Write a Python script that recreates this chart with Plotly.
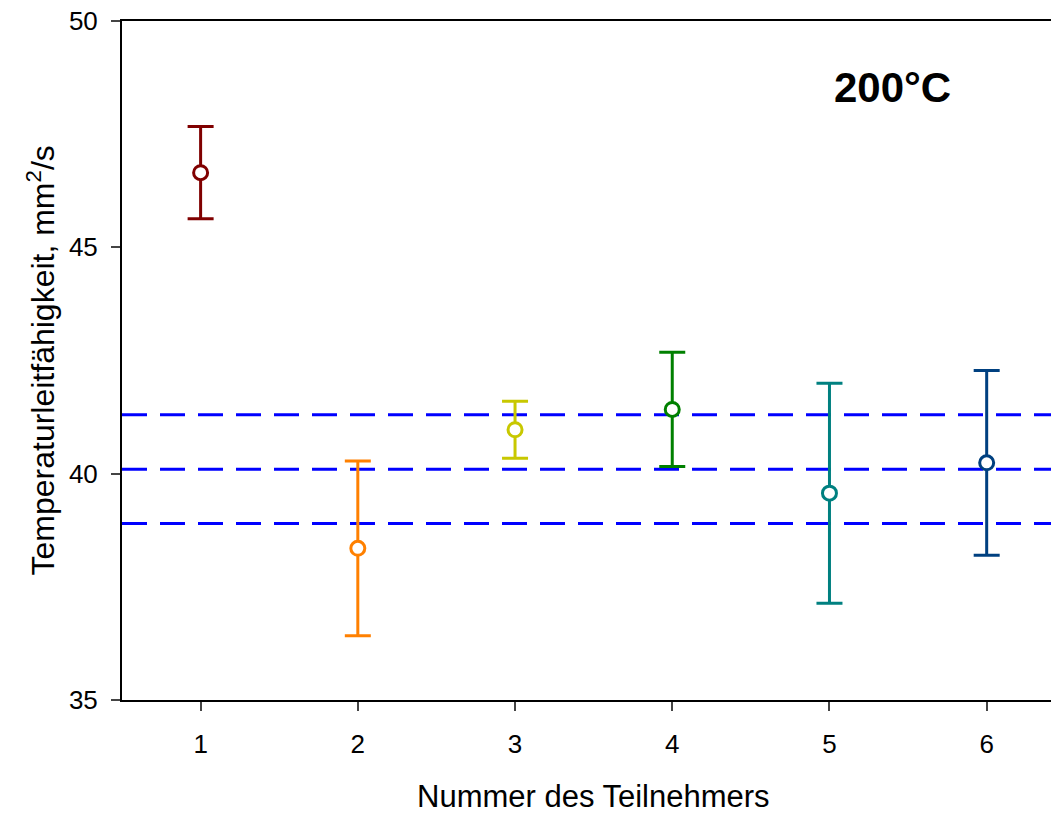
import plotly.graph_objects as go

# Data
participants = [1, 2, 3, 4, 5, 6]
values = [46.65, 38.35, 40.97, 41.42, 39.57, 40.24]
errors = [1.02, 1.93, 0.63, 1.26, 2.43, 2.04]
colors = ["#800000", "#FF8000", "#C8C800", "#008000", "#008080", "#004080"]
ref_mean = 40.1
ref_lower = 38.9
ref_upper = 41.3
x_ticks = [1, 2, 3, 4, 5, 6]
y_ticks = [35, 40, 45, 50]

FONT = "Liberation Sans, Arial, sans-serif"

fig = go.Figure()

for ref in [ref_upper, ref_mean, ref_lower]:
    fig.add_shape(type="line", xref="paper", x0=0, x1=1, yref="y", y0=ref, y1=ref,
                  line=dict(color="#0000FF", width=3, dash="25px,13px"), layer="below")

for x, v, e, c in zip(participants, values, errors, colors):
    fig.add_trace(go.Scatter(
        x=[x], y=[v], mode="markers",
        marker=dict(symbol="circle", size=14, color="white", line=dict(color=c, width=3)),
        error_y=dict(type="data", array=[e], visible=True, color=c, thickness=3, width=13),
        showlegend=False, cliponaxis=False,
    ))

fig.add_annotation(text="200°C", xref="x", yref="y", x=5.40, y=48.52,
                   showarrow=False, font=dict(family=FONT, size=42, color="black", weight="bold"),
                   xanchor="center", yanchor="middle")
fig.add_annotation(text="Nummer des Teilnehmers", xref="x", yref="paper", x=3.5, y=0,
                   yshift=-96, showarrow=False, font=dict(family=FONT, size=31, color="black"),
                   xanchor="center", yanchor="middle")
fig.add_annotation(text="Temperaturleitfähigkeit, mm<sup>2</sup>/s", xref="paper", yref="paper",
                   x=0, y=0.5, xshift=-82, textangle=-90, showarrow=False,
                   font=dict(family=FONT, size=32, color="black"),
                   xanchor="center", yanchor="middle")

fig.update_layout(
    width=1051, height=805,
    margin=dict(l=114, r=0, t=13, b=113),
    paper_bgcolor="white", plot_bgcolor="white",
    font=dict(family=FONT, color="black"),
    xaxis=dict(range=[0.5, 6.46], tickvals=x_ticks, ticks="outside", ticklen=9, tickwidth=2,
               showline=True, linecolor="black", linewidth=2, mirror=True, showgrid=False,
               zeroline=False, tickfont=dict(family=FONT, size=26, color="black"),
               ticklabelstandoff=11, ticklabeloverflow="allow", automargin=False),
    yaxis=dict(range=[35, 50], tickvals=y_ticks, ticks="outside", ticklen=9, tickwidth=2,
               showline=True, linecolor="black", linewidth=2, showgrid=False,
               zeroline=False, tickfont=dict(family=FONT, size=26, color="black"),
               ticklabelstandoff=8, ticklabeloverflow="allow", automargin=False),
)

fig.write_html("out.html")
